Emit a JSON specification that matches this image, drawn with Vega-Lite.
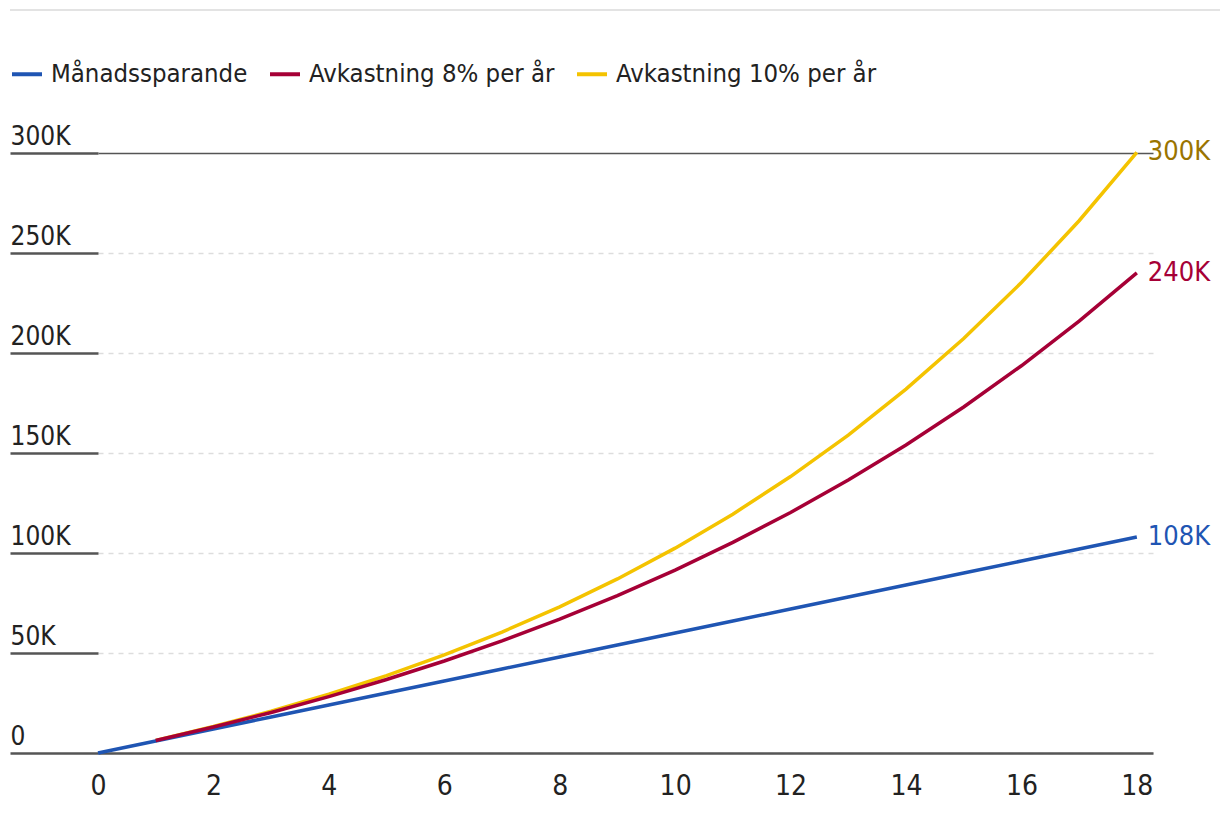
{
  "$schema": "https://vega.github.io/schema/vega-lite/v6.json",
  "width": 1055,
  "height": 600,
  "autosize": "none",
  "padding": {"left": 98, "top": 153, "right": 67, "bottom": 65},
  "config": {"font": "DejaVu Sans Condensed, Roboto, sans-serif", "view": {"stroke": null}},
  "data": {
    "values": [
      {"year": 1, "series": "Avkastning 10% per år", "value": 6283},
      {"year": 2, "series": "Avkastning 10% per år", "value": 13223},
      {"year": 3, "series": "Avkastning 10% per år", "value": 20891},
      {"year": 4, "series": "Avkastning 10% per år", "value": 29361},
      {"year": 5, "series": "Avkastning 10% per år", "value": 38719},
      {"year": 6, "series": "Avkastning 10% per år", "value": 49055},
      {"year": 7, "series": "Avkastning 10% per år", "value": 60476},
      {"year": 8, "series": "Avkastning 10% per år", "value": 73091},
      {"year": 9, "series": "Avkastning 10% per år", "value": 87028},
      {"year": 10, "series": "Avkastning 10% per år", "value": 102422},
      {"year": 11, "series": "Avkastning 10% per år", "value": 119430},
      {"year": 12, "series": "Avkastning 10% per år", "value": 138219},
      {"year": 13, "series": "Avkastning 10% per år", "value": 158975},
      {"year": 14, "series": "Avkastning 10% per år", "value": 181906},
      {"year": 15, "series": "Avkastning 10% per år", "value": 207236},
      {"year": 16, "series": "Avkastning 10% per år", "value": 235220},
      {"year": 17, "series": "Avkastning 10% per år", "value": 266134},
      {"year": 18, "series": "Avkastning 10% per år", "value": 300286},
      {"year": 0, "series": "Månadssparande", "value": 0},
      {"year": 1, "series": "Månadssparande", "value": 6000},
      {"year": 2, "series": "Månadssparande", "value": 12000},
      {"year": 3, "series": "Månadssparande", "value": 18000},
      {"year": 4, "series": "Månadssparande", "value": 24000},
      {"year": 5, "series": "Månadssparande", "value": 30000},
      {"year": 6, "series": "Månadssparande", "value": 36000},
      {"year": 7, "series": "Månadssparande", "value": 42000},
      {"year": 8, "series": "Månadssparande", "value": 48000},
      {"year": 9, "series": "Månadssparande", "value": 54000},
      {"year": 10, "series": "Månadssparande", "value": 60000},
      {"year": 11, "series": "Månadssparande", "value": 66000},
      {"year": 12, "series": "Månadssparande", "value": 72000},
      {"year": 13, "series": "Månadssparande", "value": 78000},
      {"year": 14, "series": "Månadssparande", "value": 84000},
      {"year": 15, "series": "Månadssparande", "value": 90000},
      {"year": 16, "series": "Månadssparande", "value": 96000},
      {"year": 17, "series": "Månadssparande", "value": 102000},
      {"year": 18, "series": "Månadssparande", "value": 108000},
      {"year": 1, "series": "Avkastning 8% per år", "value": 6225},
      {"year": 2, "series": "Avkastning 8% per år", "value": 12967},
      {"year": 3, "series": "Avkastning 8% per år", "value": 20267},
      {"year": 4, "series": "Avkastning 8% per år", "value": 28175},
      {"year": 5, "series": "Avkastning 8% per år", "value": 36739},
      {"year": 6, "series": "Avkastning 8% per år", "value": 46013},
      {"year": 7, "series": "Avkastning 8% per år", "value": 56057},
      {"year": 8, "series": "Avkastning 8% per år", "value": 66935},
      {"year": 9, "series": "Avkastning 8% per år", "value": 78715},
      {"year": 10, "series": "Avkastning 8% per år", "value": 91473},
      {"year": 11, "series": "Avkastning 8% per år", "value": 105291},
      {"year": 12, "series": "Avkastning 8% per år", "value": 120255},
      {"year": 13, "series": "Avkastning 8% per år", "value": 136461},
      {"year": 14, "series": "Avkastning 8% per år", "value": 154013},
      {"year": 15, "series": "Avkastning 8% per år", "value": 173021},
      {"year": 16, "series": "Avkastning 8% per år", "value": 193607},
      {"year": 17, "series": "Avkastning 8% per år", "value": 215902},
      {"year": 18, "series": "Avkastning 8% per år", "value": 240048}
    ]
  },
  "layer": [
    {
      "mark": {"type": "line", "strokeWidth": 3.5},
      "encoding": {
        "x": {
          "field": "year",
          "type": "quantitative",
          "scale": {"domain": [0, 18.28], "nice": false, "zero": false},
          "axis": {
            "values": [0, 2, 4, 6, 8, 10, 12, 14, 16, 18],
            "format": "d",
            "labelFlush": false,
            "title": null,
            "grid": false,
            "ticks": false,
            "tickSize": 0,
            "domain": true,
            "domainColor": "#555555",
            "domainWidth": 2.5,
            "labelFontSize": 28,
            "labelColor": "#222222",
            "labelPadding": 19
          }
        },
        "y": {
          "field": "value",
          "type": "quantitative",
          "scale": {"domain": [0, 300000], "nice": false},
          "axis": {
            "values": [0, 50000, 100000, 150000, 200000, 250000, 300000],
            "labelExpr": "datum.value == 0 ? '0' : (datum.value / 1000) + 'K'",
            "title": null,
            "domain": false,
            "ticks": true,
            "tickSize": 88,
            "tickColor": "#555555",
            "tickWidth": 2.5,
            "labelAlign": "left",
            "labelPadding": 0,
            "labelBaseline": "alphabetic",
            "labelOffset": -9,
            "labelFontSize": 26,
            "labelColor": "#222222",
            "grid": true,
            "gridColor": {"condition": {"test": "datum.value === 300000", "value": "#555555"}, "value": "#dddddd"},
            "gridDash": {"condition": {"test": "datum.value === 300000", "value": []}, "value": [5, 5]},
            "gridWidth": {"condition": {"test": "datum.value === 300000", "value": 1.5}, "value": 1.5}
          }
        },
        "color": {
          "field": "series",
          "type": "nominal",
          "scale": {
            "domain": ["Månadssparande", "Avkastning 8% per år", "Avkastning 10% per år"],
            "range": ["#1f55b3", "#a60036", "#f4c300"]
          },
          "legend": {
            "orient": "none",
            "legendX": -88,
            "legendY": -96,
            "direction": "horizontal",
            "title": null,
            "symbolType": "stroke",
            "symbolStrokeWidth": 4,
            "symbolSize": 900,
            "labelFontSize": 25.5,
            "labelLimit": 0,
            "labelColor": "#222222",
            "labelOffset": 7,
            "columnPadding": 14
          }
        }
      }
    },
    {
      "transform": [
        {"filter": "datum.year === 18"},
        {"calculate": "round(datum.value / 1000) + 'K'", "as": "label"}
      ],
      "mark": {"type": "text", "align": "left", "baseline": "middle", "dx": 11, "fontSize": 27},
      "encoding": {
        "x": {"field": "year", "type": "quantitative"},
        "y": {"field": "value", "type": "quantitative"},
        "text": {"field": "label"},
        "color": {
          "field": "series",
          "type": "nominal",
          "scale": {
            "domain": ["Månadssparande", "Avkastning 8% per år", "Avkastning 10% per år"],
            "range": ["#1f55b3", "#a60036", "#9a7400"]
          },
          "legend": null
        }
      }
    },
    {
      "mark": {"type": "rule", "color": "#e3e3e3", "strokeWidth": 2},
      "encoding": {
        "y": {"datum": 371500},
        "x": {"datum": -1.525},
        "x2": {"datum": 19.45}
      }
    }
  ],
  "resolve": {"scale": {"color": "independent"}}
}
